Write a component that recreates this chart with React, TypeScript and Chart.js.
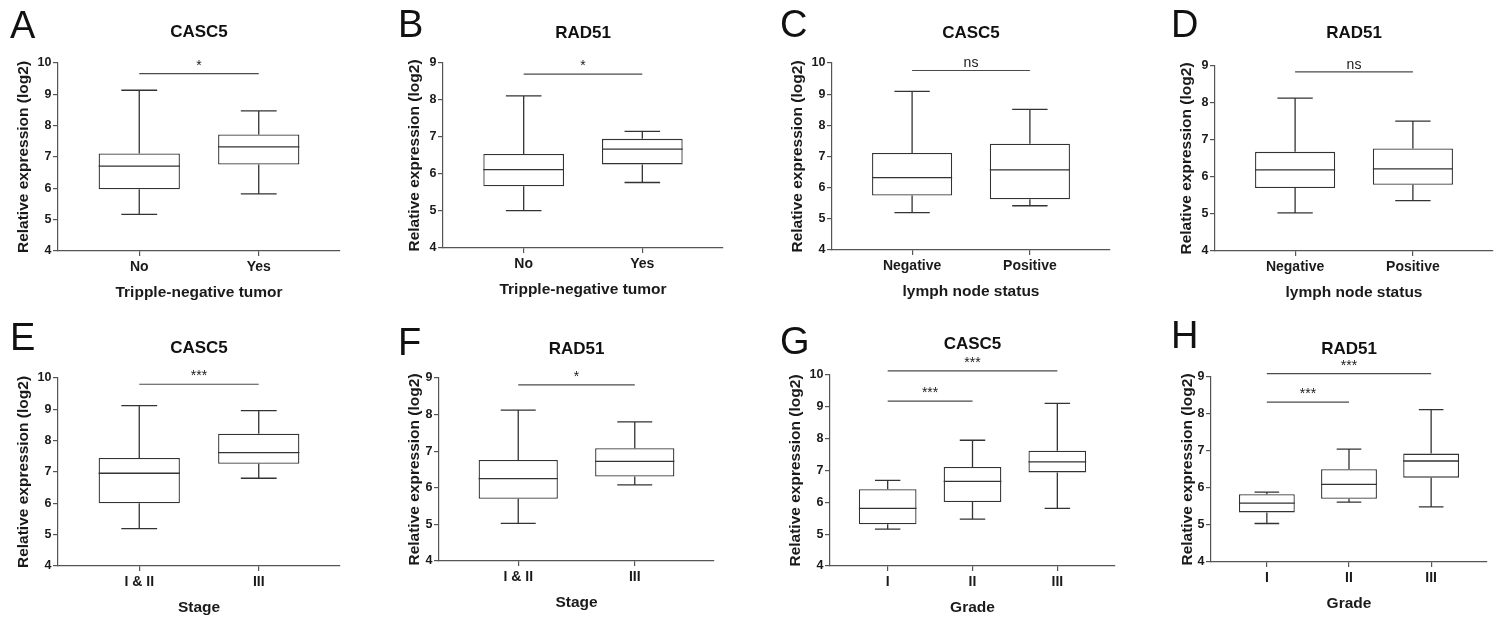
import React, { useEffect, useRef } from "react";
import { Chart, registerables } from "chart.js";

Chart.register(...registerables);

const FONT = '"Liberation Sans", Arial, Helvetica, sans-serif';

// ---- categories ----
const tnbcCategories = ["No", "Yes"];
const lymphCategories = ["Negative", "Positive"];
const stageCategories = ["I & II", "III"];
const gradeCategories = ["I", "II", "III"];

// ---- box statistics: [min, q1, median, q3, max] per category ----
const casc5Tnbc = [
  [5.17, 5.97, 6.71, 7.11, 9.13],
  [5.82, 6.76, 7.32, 7.72, 8.47],
];
const rad51Tnbc = [
  [5.01, 5.67, 6.12, 6.54, 8.11],
  [5.77, 6.26, 6.67, 6.95, 7.15],
];
const casc5Lymph = [
  [5.2, 5.75, 6.32, 7.11, 9.09],
  [5.42, 5.63, 6.57, 7.41, 8.51],
];
const rad51Lymph = [
  [5.03, 5.7, 6.19, 6.68, 8.13],
  [5.36, 5.79, 6.22, 6.77, 7.51],
];
const casc5Stage = [
  [5.19, 6.0, 6.96, 7.45, 9.12],
  [6.8, 7.26, 7.62, 8.22, 8.96],
];
const rad51Stage = [
  [5.03, 5.7, 6.25, 6.76, 8.12],
  [6.08, 6.31, 6.72, 7.08, 7.8],
];
const casc5Grade = [
  [5.16, 5.31, 5.81, 6.41, 6.69],
  [5.47, 6.01, 6.66, 7.11, 7.95],
  [5.81, 6.94, 7.27, 7.62, 9.11],
];
const rad51Grade = [
  [5.04, 5.34, 5.59, 5.83, 5.89],
  [5.62, 5.71, 6.1, 6.51, 7.05],
  [5.49, 6.28, 6.73, 6.93, 8.12],
];

// ---- significance brackets: [fromIndex, toIndex, yValue, label] ----
const sigA = [[0, 1, 9.66, "*"]];
const sigB = [[0, 1, 8.7, "*"]];
const sigC = [[0, 1, 9.76, "ns"]];
const sigD = [[0, 1, 8.84, "ns"]];
const sigE = [[0, 1, 9.8, "***"]];
const sigF = [[0, 1, 8.81, "*"]];
const sigG = [
  [0, 2, 10.13, "***"],
  [0, 1, 9.18, "***"],
];
const sigH = [
  [0, 2, 9.09, "***"],
  [0, 1, 8.32, "***"],
];

const yAxisTitle = "Relative expression (log2)";

const panels = [
  { letter: "A", gene: "CASC5", cats: tnbcCategories, stats: casc5Tnbc, sig: sigA, yMax: 10, xTitle: "Tripple-negative tumor" },
  { letter: "B", gene: "RAD51", cats: tnbcCategories, stats: rad51Tnbc, sig: sigB, yMax: 9, xTitle: "Tripple-negative tumor" },
  { letter: "C", gene: "CASC5", cats: lymphCategories, stats: casc5Lymph, sig: sigC, yMax: 10, xTitle: "lymph node status" },
  { letter: "D", gene: "RAD51", cats: lymphCategories, stats: rad51Lymph, sig: sigD, yMax: 9, xTitle: "lymph node status" },
  { letter: "E", gene: "CASC5", cats: stageCategories, stats: casc5Stage, sig: sigE, yMax: 10, xTitle: "Stage" },
  { letter: "F", gene: "RAD51", cats: stageCategories, stats: rad51Stage, sig: sigF, yMax: 9, xTitle: "Stage" },
  { letter: "G", gene: "CASC5", cats: gradeCategories, stats: casc5Grade, sig: sigG, yMax: 10, xTitle: "Grade" },
  { letter: "H", gene: "RAD51", cats: gradeCategories, stats: rad51Grade, sig: sigH, yMax: 9, xTitle: "Grade" },
];

// ---- layout (per panel, local pixel targets inside a 376x310 cell) ----
const PANEL_W = 376;
const PANEL_H = 310;
const panelLayouts = [
  { L: 58, R: 340, T: 63, B: 251, yTitleX: 23.5, titleY: 32.5, letterX: 10, letterY: 38 },
  { L: 67, R: 347, T: 63, B: 248, yTitleX: 38.5, titleY: 33, letterX: 22, letterY: 37 },
  { L: 80, R: 358, T: 63, B: 250, yTitleX: 45.5, titleY: 33, letterX: 28, letterY: 37 },
  { L: 87, R: 365, T: 66, B: 251, yTitleX: 58.5, titleY: 33, letterX: 43, letterY: 37 },
  { L: 58, R: 340, T: 68, B: 256, yTitleX: 23.5, titleY: 38, letterX: 10, letterY: 40 },
  { L: 63, R: 338, T: 68, B: 251, yTitleX: 38.5, titleY: 39, letterX: 22, letterY: 45 },
  { L: 78, R: 363, T: 65, B: 256, yTitleX: 43.5, titleY: 34, letterX: 28, letterY: 44 },
  { L: 83, R: 359, T: 67, B: 252, yTitleX: 60, titleY: 39, letterX: 43, letterY: 38 },
];

const LINE = "#333";
const AXIS = "#555";
const TEXT = "#1a1a1a";
const AXIS_TITLE_SIZE = 15.5;
const TITLE_SIZE = 17;
const X_TICK_SIZE = 14;
const Y_TICK_SIZE = 12.5;

const boxExtras = {
  id: "boxExtras",
  afterDatasetsDraw(chart: any, _args: any, opts: any) {
    const { ctx } = chart;
    const xs = chart.scales.x;
    const ys = chart.scales.y;
    const meta = chart.getDatasetMeta(0);
    ctx.save();
    ctx.strokeStyle = LINE;
    ctx.lineWidth = 1.3;
    (opts.stats as number[][]).forEach((s, i) => {
      const cx = xs.getPixelForValue(i);
      const bar = meta.data[i] as any;
      const half = bar.width / 2;
      const cap = xs.getPixelForValue(i + 0.15) - cx;
      const [mn, q1, med, q3, mx] = s;
      ctx.beginPath();
      ctx.moveTo(cx, ys.getPixelForValue(q3));
      ctx.lineTo(cx, ys.getPixelForValue(mx));
      ctx.moveTo(cx - cap, ys.getPixelForValue(mx));
      ctx.lineTo(cx + cap, ys.getPixelForValue(mx));
      ctx.moveTo(cx, ys.getPixelForValue(q1));
      ctx.lineTo(cx, ys.getPixelForValue(mn));
      ctx.moveTo(cx - cap, ys.getPixelForValue(mn));
      ctx.lineTo(cx + cap, ys.getPixelForValue(mn));
      ctx.moveTo(cx - half, ys.getPixelForValue(med));
      ctx.lineTo(cx + half, ys.getPixelForValue(med));
      ctx.stroke();
    });
    ctx.strokeStyle = "#4a4a4a";
    ctx.lineWidth = 1.2;
    ctx.fillStyle = TEXT;
    ctx.textAlign = "center";
    ctx.textBaseline = "alphabetic";
    (opts.sig as any[]).forEach(([a, b, v, label]) => {
      const x1 = xs.getPixelForValue(a);
      const x2 = xs.getPixelForValue(b);
      const yy = ys.getPixelForValue(v);
      ctx.beginPath();
      ctx.moveTo(x1, yy);
      ctx.lineTo(x2, yy);
      ctx.stroke();
      ctx.font = `14px ${FONT}`;
      ctx.fillText(label, (x1 + x2) / 2, yy - (label === "ns" ? 3 : 4));
    });
    ctx.restore();
  },
  afterDraw(chart: any, _args: any, opts: any) {
    const { ctx } = chart;
    ctx.save();
    ctx.fillStyle = "#111";
    ctx.font = `38px ${FONT}`;
    ctx.textAlign = "left";
    ctx.textBaseline = "alphabetic";
    ctx.fillText(opts.letter, opts.letterX, opts.letterY);
    ctx.restore();
  },
};

function Panel({ cfg, lay, left, top }: any) {
  const ref = useRef<HTMLCanvasElement>(null);
  useEffect(() => {
    if (!ref.current) return;
    const yTitleLH = AXIS_TITLE_SIZE * 1.2;
    const titleLH = TITLE_SIZE * 1.2;
    const padLeft = lay.yTitleX - yTitleLH / 2;
    const yWidth = lay.L - padLeft;
    const padRight = PANEL_W - lay.R;
    const xHeight = 42 + yTitleLH / 2;
    const padBottom = PANEL_H - lay.B - xHeight;
    const titlePadTop = lay.titleY - titleLH / 2;
    const titlePadBottom = lay.T - lay.titleY - titleLH / 2;
    const n = cfg.cats.length;
    const xTickFont = { family: FONT, size: X_TICK_SIZE, weight: "bold" as const };
    const yTickFont = { family: FONT, size: Y_TICK_SIZE, weight: "bold" as const };
    const axisTitleFont = { family: FONT, size: AXIS_TITLE_SIZE, weight: "bold" as const };

    const chart = new Chart(ref.current, {
      type: "bar",
      data: {
        datasets: [
          {
            data: cfg.stats.map((s: number[], i: number) => ({ x: i, y: [s[1], s[3]] })),
            backgroundColor: "#ffffff",
            borderColor: LINE,
            borderWidth: 1.3,
            borderSkipped: false,
            barPercentage: 0.68,
            categoryPercentage: 1,
          } as any,
        ],
      },
      options: {
        responsive: false,
        animation: false,
        devicePixelRatio: 1,
        layout: { padding: { left: padLeft, right: padRight, top: 0, bottom: padBottom } },
        plugins: {
          legend: { display: false },
          tooltip: { enabled: false },
          title: {
            display: true,
            text: cfg.gene,
            fullSize: false,
            color: "#111",
            font: { family: FONT, size: TITLE_SIZE, weight: "bold" },
            padding: { top: titlePadTop, bottom: titlePadBottom },
          },
          boxExtras: {
            stats: cfg.stats,
            sig: cfg.sig,
            letter: cfg.letter,
            letterX: lay.letterX,
            letterY: lay.letterY,
          },
        } as any,
        scales: {
          x: {
            type: "linear",
            offset: false,
            min: -0.68,
            max: n - 1 + 0.68,
            afterBuildTicks: (scale: any) => {
              scale.ticks = cfg.cats.map((_: string, i: number) => ({ value: i }));
            },
            afterFit: (scale: any) => {
              scale.height = xHeight;
            },
            ticks: {
              autoSkip: false,
              maxRotation: 0,
              padding: 3,
              color: TEXT,
              font: xTickFont,
              callback: (v: any) => cfg.cats[Math.round(Number(v))],
            },
            grid: { offset: false, drawOnChartArea: false, drawTicks: true, tickLength: 5, color: AXIS, lineWidth: 1.2 },
            border: { display: true, color: AXIS, width: 1.2 },
            title: { display: true, text: cfg.xTitle, color: TEXT, font: axisTitleFont, padding: 0 },
          } as any,
          y: {
            min: 4,
            max: cfg.yMax,
            afterFit: (scale: any) => {
              scale.width = yWidth;
            },
            ticks: { stepSize: 1, padding: 1.5, color: TEXT, font: yTickFont },
            grid: { drawOnChartArea: false, drawTicks: true, tickLength: 5, color: AXIS, lineWidth: 1.2 },
            border: { display: true, color: AXIS, width: 1.2 },
            title: { display: true, text: yAxisTitle, color: TEXT, font: axisTitleFont, padding: 0 },
          } as any,
        },
      },
      plugins: [boxExtras as any],
    });
    return () => chart.destroy();
  }, []);
  return (
    <canvas
      ref={ref}
      width={PANEL_W}
      height={PANEL_H}
      style={{ position: "absolute", left, top, width: PANEL_W, height: PANEL_H }}
    />
  );
}

export default function App() {
  return (
    <div style={{ position: "absolute", left: 0, top: 0, width: 1504, height: 620, background: "#ffffff" }}>
      {panels.map((p, i) => (
        <Panel
          key={p.letter}
          cfg={p}
          lay={panelLayouts[i]}
          left={(i % 4) * PANEL_W}
          top={Math.floor(i / 4) * PANEL_H}
        />
      ))}
    </div>
  );
}
